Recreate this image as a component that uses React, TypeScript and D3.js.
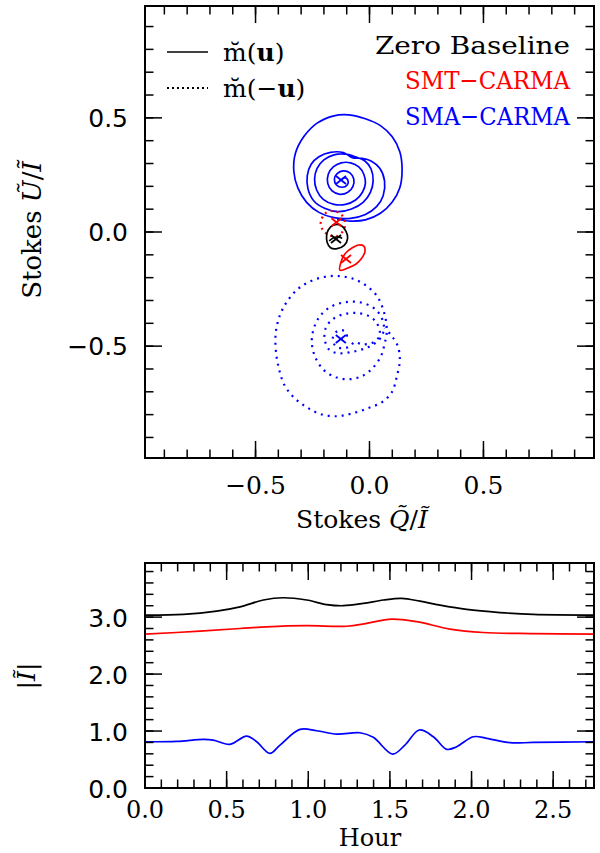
import React from 'react';
import * as d3 from 'd3';

// m(u) for SMA-CARMA as [Q/I, U/I]
const smaForward: [number, number][] = [
  [-0.124, 0.228], [-0.110, 0.238], [-0.095, 0.227], [-0.098, 0.206], [-0.120, 0.196],
  [-0.145, 0.206], [-0.154, 0.232], [-0.142, 0.256], [-0.115, 0.268], [-0.086, 0.259],
  [-0.069, 0.232], [-0.073, 0.199], [-0.095, 0.174], [-0.130, 0.165], [-0.164, 0.180],
  [-0.183, 0.212], [-0.181, 0.253], [-0.159, 0.285], [-0.124, 0.303], [-0.083, 0.303],
  [-0.047, 0.285], [-0.025, 0.253], [-0.018, 0.213], [-0.031, 0.174], [-0.061, 0.140],
  [-0.105, 0.121], [-0.156, 0.121], [-0.203, 0.143], [-0.232, 0.184], [-0.241, 0.232],
  [-0.230, 0.279], [-0.200, 0.316], [-0.156, 0.338], [-0.105, 0.341], [-0.061, 0.329],
  [-0.020, 0.311], [0.007, 0.276], [0.016, 0.224], [0.004, 0.174], [-0.028, 0.130],
  [-0.079, 0.101], [-0.139, 0.089], [-0.197, 0.104], [-0.244, 0.136], [-0.270, 0.189],
  [-0.273, 0.247], [-0.256, 0.297], [-0.222, 0.330], [-0.171, 0.349], [-0.115, 0.348],
  [-0.076, 0.326], [-0.032, 0.323], [0.007, 0.311], [0.045, 0.279], [0.066, 0.224],
  [0.060, 0.159], [0.031, 0.111], [-0.018, 0.077], [-0.083, 0.060], [-0.156, 0.063],
  [-0.222, 0.086], [-0.276, 0.130], [-0.314, 0.192], [-0.332, 0.265], [-0.325, 0.345],
  [-0.288, 0.418], [-0.230, 0.477], [-0.156, 0.509], [-0.091, 0.513], [-0.018, 0.496],
  [0.048, 0.466], [0.099, 0.418], [0.133, 0.352], [0.143, 0.272], [0.133, 0.194],
  [0.099, 0.130], [0.048, 0.082], [-0.018, 0.053], [-0.083, 0.048], [-0.142, 0.056],
];

// m(-u) for SMA-CARMA
const smaReverse: [number, number][] = [
  [-0.126, -0.469], [-0.104, -0.465], [-0.100, -0.443], [-0.121, -0.430], [-0.148, -0.439],
  [-0.161, -0.465], [-0.152, -0.496], [-0.126, -0.509], [-0.091, -0.504], [-0.064, -0.482],
  [-0.038, -0.491], [-0.012, -0.491], [0.019, -0.482], [0.045, -0.452], [0.032, -0.399],
  [-0.003, -0.368], [-0.056, -0.355], [-0.113, -0.360], [-0.161, -0.382], [-0.192, -0.421],
  [-0.196, -0.474], [-0.174, -0.518], [-0.135, -0.531], [-0.082, -0.526], [-0.029, -0.513],
  [0.019, -0.491], [0.054, -0.456], [0.063, -0.408], [0.041, -0.355], [0.006, -0.325],
  [-0.047, -0.307], [-0.104, -0.307], [-0.165, -0.325], [-0.214, -0.364], [-0.244, -0.421],
  [-0.253, -0.487], [-0.236, -0.553], [-0.200, -0.605], [-0.148, -0.636], [-0.091, -0.645],
  [-0.034, -0.632], [0.014, -0.596], [0.050, -0.544], [0.067, -0.487], [0.076, -0.434],
  [0.067, -0.364], [0.036, -0.285], [-0.012, -0.237], [-0.069, -0.206], [-0.135, -0.193],
  [-0.200, -0.197], [-0.266, -0.219], [-0.319, -0.254], [-0.363, -0.307], [-0.393, -0.364],
  [-0.411, -0.439], [-0.411, -0.518], [-0.398, -0.596], [-0.371, -0.675], [-0.328, -0.728],
  [-0.275, -0.768], [-0.214, -0.798], [-0.143, -0.807], [-0.073, -0.794], [-0.007, -0.772],
  [0.054, -0.746], [0.098, -0.702], [0.120, -0.632], [0.133, -0.561], [0.124, -0.500],
  [0.098, -0.456], [0.067, -0.421],
];

// SMT-CARMA loops (closed)
const smtForward: [number, number][] = [
  [-0.130, -0.167], [-0.122, -0.123], [-0.108, -0.096], [-0.079, -0.071], [-0.047, -0.057],
  [-0.025, -0.062], [-0.020, -0.086], [-0.036, -0.117], [-0.059, -0.140], [-0.091, -0.156],
];
const smtReverse: [number, number][] = [
  [-0.200, 0.075], [-0.214, 0.044], [-0.205, 0.009], [-0.179, -0.013], [-0.143, -0.018],
  [-0.113, 0.009], [-0.108, 0.044], [-0.126, 0.079], [-0.161, 0.092], [-0.192, 0.083],
];

// Zero baseline
const zeroCurl: [number, number][] = [
  [-0.120, -0.028], [-0.135, -0.021], [-0.157, -0.025], [-0.177, -0.039],
];
const zeroLoop: [number, number][] = [
  [-0.171, -0.069], [-0.142, -0.073], [-0.111, -0.059], [-0.096, -0.028], [-0.103, 0.003],
  [-0.127, 0.030], [-0.159, 0.030], [-0.181, 0.009], [-0.188, -0.015], [-0.186, -0.045],
];

// zero-spacing values (crosses)
const crosses: { q: number; u: number; color: string }[] = [
  { q: -0.125, u: 0.228, color: '#0000ff' },
  { q: -0.126, u: -0.469, color: '#0000ff' },
  { q: -0.103, u: -0.118, color: '#ff0000' },
  { q: -0.145, u: 0.043, color: '#ff0000' },
  { q: -0.147, u: -0.031, color: '#000000' },
];

// bottom panel: |I| vs hour
const zeroHours = [0, 0.235, 0.439, 0.582, 0.725, 0.847, 0.99, 1.112, 1.215, 1.337, 1.46, 1.572, 1.684, 1.807, 1.97, 2.174, 2.378, 2.75];
const zeroAmp = [3.035, 3.047, 3.105, 3.18, 3.30, 3.34, 3.30, 3.22, 3.20, 3.24, 3.30, 3.33, 3.28, 3.21, 3.135, 3.08, 3.047, 3.035];
const smtHours = [0, 0.337, 0.582, 0.745, 0.99, 1.235, 1.357, 1.51, 1.664, 1.868, 2.072, 2.378, 2.75];
const smtAmp = [2.70, 2.754, 2.80, 2.83, 2.85, 2.84, 2.89, 2.965, 2.92, 2.79, 2.73, 2.71, 2.70];
const smaHours = [0, 0.194, 0.357, 0.418, 0.520, 0.622, 0.684, 0.765, 0.827, 0.949, 1.052, 1.174, 1.317, 1.398, 1.517, 1.592, 1.680, 1.766, 1.848, 1.909, 2.011, 2.093, 2.235, 2.378, 2.75];
const smaAmp = [0.812, 0.819, 0.854, 0.842, 0.766, 0.912, 0.812, 0.608, 0.754, 1.029, 1.005, 0.947, 0.970, 0.889, 0.596, 0.754, 1.018, 0.90, 0.678, 0.725, 0.90, 0.872, 0.795, 0.80, 0.812];

const qTicks = [-0.5, 0, 0.5];
const hourTicks = [0, 0.5, 1, 1.5, 2, 2.5];
const ampTicks = [0, 1, 2, 3];

const fmt = (v: number) => (v < 0 ? '\u2212' : '') + Math.abs(v).toFixed(1);
const SERIF = 'DejaVu Serif';
const SANS = 'DejaVu Sans';
const BLUE = '#0000ff';
const RED = '#ff0000';

export default function App() {
  const L = 145, R = 594;
  const xQ = d3.scaleLinear().domain([-0.985, 0.985]).range([L, R]);
  const yU = d3.scaleLinear().domain([-0.99, 0.99]).range([458, 6]);
  const xH = d3.scaleLinear().domain([0, 2.75]).range([L, R]);
  const yI = d3.scaleLinear().domain([0, 3.95]).range([788, 563]);

  const open = d3.line<[number, number]>().x(d => xQ(d[0])).y(d => yU(d[1])).curve(d3.curveCatmullRom.alpha(0.5));
  const closed = d3.line<[number, number]>().x(d => xQ(d[0])).y(d => yU(d[1])).curve(d3.curveCatmullRomClosed.alpha(0.5));
  const amp = (hs: number[], vs: number[]) =>
    d3.line<number>().x((_, i) => xH(hs[i])).y(d => yI(d)).curve(d3.curveCatmullRom.alpha(0.5))(vs) || '';

  const tickMarks = (
    xs: d3.ScaleLinear<number, number>, ys: d3.ScaleLinear<number, number>,
    xMinor: number[], xMajor: number[], yMinor: number[], yMajor: number[]
  ) => {
    const [x0, x1] = xs.range();
    const [y0, y1] = ys.range();
    const out: JSX.Element[] = [];
    const mk = (v: number, len: number, k: string) => {
      const x = xs(v);
      out.push(<line key={k + 'b'} x1={x} x2={x} y1={y0} y2={y0 - len} />);
      out.push(<line key={k + 't'} x1={x} x2={x} y1={y1} y2={y1 + len} />);
    };
    const mky = (v: number, len: number, k: string) => {
      const y = ys(v);
      out.push(<line key={k + 'l'} x1={x0} x2={x0 + len} y1={y} y2={y} />);
      out.push(<line key={k + 'r'} x1={x1} x2={x1 - len} y1={y} y2={y} />);
    };
    xMinor.forEach((v, i) => mk(v, 8.5, 'xm' + i));
    xMajor.forEach((v, i) => mk(v, 17, 'xM' + i));
    yMinor.forEach((v, i) => mky(v, 8.5, 'ym' + i));
    yMajor.forEach((v, i) => mky(v, 17, 'yM' + i));
    return out;
  };

  const tenths = d3.range(-9, 10).map(i => i / 10);
  const hourMinor = d3.range(0, 28).map(i => i / 10);
  const ampMinor = d3.range(0, 20).map(i => i / 5);

  const cross = (x: number, y: number, c: string, k: string) => (
    <g key={k} stroke={c} strokeWidth={1.8}>
      <line x1={x - 5} x2={x + 5} y1={y - 4} y2={y + 4} />
      <line x1={x - 5} x2={x + 5} y1={y + 4} y2={y - 4} />
    </g>
  );

  return (
    <svg width={600} height={853} style={{ position: 'absolute', left: 0, top: 0, background: '#fff' }}>
      {/* top panel curves */}
      <g fill="none" strokeWidth={1.7}>
        <path d={open(smaForward) || ''} stroke={BLUE} />
        <path d={open(smaReverse) || ''} stroke={BLUE} strokeDasharray="2 5" strokeWidth={2.2} />
        <path d={closed(smtForward) || ''} stroke={RED} />
        <path d={closed(smtReverse) || ''} stroke={RED} strokeDasharray="2 4" strokeWidth={2.2} />
        <path d={closed(zeroLoop) || ''} stroke="#000" />
        <path d={open(zeroCurl) || ''} stroke="#000" />
      </g>
      {crosses.map((c, i) => cross(xQ(c.q), yU(c.u), c.color, 'c' + i))}

      <g stroke="#000" strokeWidth={1.5}>
        {tickMarks(xQ, yU, tenths, qTicks, tenths, qTicks)}
      </g>
      <rect x={L} y={6} width={R - L} height={452} fill="none" stroke="#000" strokeWidth={2} />

      {/* legend */}
      <line x1={167} x2={208} y1={52} y2={52} stroke="#000" strokeWidth={1.5} />
      <line x1={167} x2={208} y1={88} y2={88} stroke="#000" strokeWidth={1.8} strokeDasharray="2 3" />
      <g fontFamily={SERIF} fontSize={25}>
        <text x={223} y={61}>{'m\u0306('}<tspan fontWeight="bold">u</tspan>)</text>
        <text x={223} y={97}>{'m\u0306(\u2212'}<tspan fontWeight="bold">u</tspan>)</text>
        <text x={570} y={54} textAnchor="end" textLength={195} lengthAdjust="spacingAndGlyphs">Zero Baseline</text>
        <text x={570} y={89} textAnchor="end" fill={RED} textLength={165} lengthAdjust="spacingAndGlyphs">{'SMT\u2212CARMA'}</text>
        <text x={570} y={125} textAnchor="end" fill={BLUE} textLength={165} lengthAdjust="spacingAndGlyphs">{'SMA\u2212CARMA'}</text>
      </g>

      {/* top panel labels */}
      <g fontFamily={SANS} fontSize={25} textAnchor="end">
        {qTicks.map(v => <text key={'yl' + v} x={128} y={yU(v) + 9}>{fmt(v)}</text>)}
      </g>
      <g fontFamily={SERIF} fontSize={25} textAnchor="middle">
        {qTicks.map(v => <text key={'xl' + v} x={xQ(v)} y={494}>{fmt(v)}</text>)}
        <text x={362} y={528}>{'Stokes '}<tspan fontStyle="italic">{'Q\u0303'}</tspan>/<tspan fontStyle="italic">{'\u0128'}</tspan></text>
        <text transform="translate(41,230) rotate(-90)" fontSize={26}>{'Stokes '}<tspan fontStyle="italic">{'\u0168'}</tspan>/<tspan fontStyle="italic">{'\u0128'}</tspan></text>
      </g>

      {/* bottom panel */}
      <g fill="none" strokeWidth={1.7}>
        <path d={amp(zeroHours, zeroAmp)} stroke="#000" />
        <path d={amp(smtHours, smtAmp)} stroke={RED} />
        <path d={amp(smaHours, smaAmp)} stroke={BLUE} />
      </g>
      <g stroke="#000" strokeWidth={1.5}>
        {tickMarks(xH, yI, hourMinor, hourTicks, ampMinor, ampTicks)}
      </g>
      <rect x={L} y={563} width={R - L} height={225} fill="none" stroke="#000" strokeWidth={2} />
      <g fontFamily={SANS} fontSize={25} textAnchor="end">
        {ampTicks.map(v => <text key={'al' + v} x={128} y={yI(v) + 10}>{fmt(v)}</text>)}
      </g>
      <g fontFamily={SERIF} fontSize={24} textAnchor="middle">
        {hourTicks.map(v => <text key={'hl' + v} x={xH(v)} y={818}>{fmt(v)}</text>)}
        <text x={370} y={846}>Hour</text>
        <text transform="translate(35,676) rotate(-90)" fontSize={25}>|<tspan fontStyle="italic">{'\u0128'}</tspan>|</text>
      </g>
    </svg>
  );
}
